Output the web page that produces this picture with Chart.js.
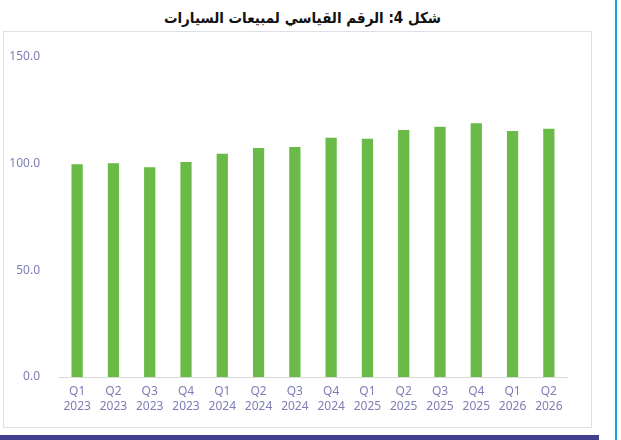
<!DOCTYPE html>
<html>
<head>
<meta charset="utf-8">
<script src="https://cdn.jsdelivr.net/npm/chart.js@4"></script>
<style>
  body { margin: 0; background: #fff; width: 621px; height: 440px; overflow: hidden; position: relative; }
  #title { position: absolute; left: 8px; width: 589px; top: 9px; text-align: center;
           font-family: "DejaVu Sans Condensed", "DejaVu Sans", sans-serif; font-weight: bold; font-size: 15px; color: #111; direction: rtl; }
  #box { position: absolute; left: 3px; top: 31px; width: 587px; height: 395px; border: 1px solid #dcdfe8; }
  #band { position: absolute; left: 0; top: 435px; width: 599px; height: 5px; background: #423f8e; }
  #edge { position: absolute; left: 615px; top: 0; width: 2px; height: 440px; background: #1ba3d8; }
</style>
</head>
<body>
<div id="title">شكل 4: الرقم القياسي لمبيعات السيارات</div>
<div id="box"><canvas id="bar" width="587" height="395"></canvas></div>
<div id="band"></div>
<div id="edge"></div>
<script>
/* DATA */
const quarters = ["Q1", "Q2", "Q3", "Q4", "Q1", "Q2", "Q3", "Q4", "Q1", "Q2", "Q3", "Q4", "Q1", "Q2"];
const years = ["2023", "2023", "2023", "2023", "2024", "2024", "2024", "2024", "2025", "2025", "2025", "2025", "2026", "2026"];
const salesIndex = [99.7, 100.2, 98.3, 100.8, 104.7, 107.3, 107.8, 112.2, 111.7, 115.8, 117.3, 118.9, 115.3, 116.4];
const yTicks = [0, 50, 100, 150];

const labels = quarters.map((q, i) => [q, years[i]]);
const tickColor = "#7f7db6";

/* BAR CHART */
const barCtx = document.getElementById("bar");
new Chart(barCtx, {
  type: "bar",
  data: {
    labels: labels,
    datasets: [{
      label: "الرقم القياسي",
      data: salesIndex,
      backgroundColor: "#6aba47",
      categoryPercentage: 1,
      barPercentage: 0.31
    }]
  },
  options: {
    responsive: false,
    animation: false,
    layout: {
      padding: { top: 25, right: 24, left: 0, bottom: 0 }
    },
    scales: {
      x: {
        grid: { display: false },
        border: { display: true, color: "#d9d9d9", width: 1 },
        ticks: {
          color: tickColor,
          padding: -1,
          maxRotation: 0,
          autoSkip: false,
          font: { family: "Noto Sans", size: 12, lineHeight: 1.25 }
        },
        afterFit: function (axis) { axis.height = 50; }
      },
      y: {
        min: 0,
        max: 150,
        afterBuildTicks: function (axis) {
          axis.ticks = yTicks.map(v => ({ value: v }));
        },
        grid: { display: false },
        border: { display: false },
        ticks: {
          color: tickColor,
          padding: 11,
          font: { family: "Noto Sans", size: 12 },
          callback: function (value) {
            return Number(value).toFixed(1);
          }
        },
        afterFit: function (axis) { axis.width = 55; }
      }
    },
    plugins: {
      legend: { display: false },
      tooltip: { enabled: false }
    }
  }
});
</script>
</body>
</html>
